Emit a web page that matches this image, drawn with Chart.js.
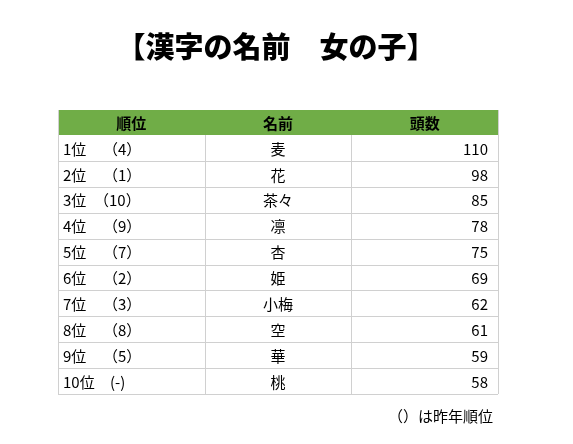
<!DOCTYPE html><html><head><meta charset="utf-8">
<script src="https://cdn.jsdelivr.net/npm/chart.js@4/dist/chart.umd.min.js"></script>
<style>html,body{margin:0;background:#fff}#w{width:573px;height:444px}</style></head><body>
<div id="w"><canvas id="c"></canvas></div>
<script>
const headers = ['順位','名前','頭数'];
const ranks = ['1位','2位','3位','4位','5位','6位','7位','8位','9位','10位'];
const prevRanks = ['（4）','（1）','（10）','（9）','（7）','（2）','（3）','（8）','（5）','(-)'];
const names = ['麦','花','茶々','凛','杏','姫','小梅','空','華','桃'];
const counts = [110,98,85,78,75,69,62,61,59,58];
const F = '"Noto Sans CJK JP", sans-serif';
const tablePlugin = {
  id:'table',
  afterDraw(chart){
    const ctx=chart.ctx, a=chart.chartArea, ys=chart.scales.y;
    const L=a.left,R=a.right,W=(R-L)/3;
    const rowH=(a.bottom-a.top)/ranks.length;
    ctx.save();
    ctx.fillStyle='#000';ctx.font='900 29px '+F;ctx.textAlign='center';ctx.textBaseline='middle';
    ctx.fillText('【漢字の名前　女の子】',276,47);
    const hTop=a.top-25;
    ctx.fillStyle='#70ad47';ctx.fillRect(L,hTop,R-L,25);
    ctx.fillStyle='#000';ctx.font='bold 15px '+F;
    headers.forEach((h,i)=>ctx.fillText(h,L+W*i+W/2,hTop+13));
    ctx.strokeStyle='#d0d0d0';ctx.lineWidth=1;
    ranks.forEach((r,i)=>{
      const y=ys.getPixelForValue(i)+rowH/2;
      ctx.beginPath();ctx.moveTo(L,Math.round(y)+0.5);ctx.lineTo(R,Math.round(y)+0.5);ctx.stroke();
    });
    [L,L+W,L+2*W,R].forEach(x=>{ctx.beginPath();ctx.moveTo(Math.round(x)+0.5,a.top);ctx.lineTo(Math.round(x)+0.5,a.bottom);ctx.stroke();});
    ctx.beginPath();ctx.moveTo(L+0.5,hTop);ctx.lineTo(L+0.5,a.top);ctx.moveTo(R+0.5,hTop);ctx.lineTo(R+0.5,a.top);ctx.stroke();
    ctx.font='15px '+F;ctx.fillStyle='#000';
    ranks.forEach((r,i)=>{
      const y=ys.getPixelForValue(i)+1;
      ctx.textAlign='left';ctx.fillText(r,L+5,y);
      ctx.fillText(prevRanks[i],L+(i===2?36:(i===9?52:45)),y);
      ctx.textAlign='center';ctx.fillText(names[i],L+W*1.5,y);
      ctx.textAlign='right';ctx.fillText(String(counts[i]),R-10,y);
    });
    ctx.textAlign='right';ctx.fillText('（）は昨年順位',493,416);
    ctx.restore();
  }
};
new Chart(document.getElementById('c'),{
  type:'bar',
  data:{labels:ranks,datasets:[{data:counts.map(()=>0),backgroundColor:'rgba(0,0,0,0)'}]},
  options:{responsive:true,maintainAspectRatio:false,animation:false,indexAxis:'y',
    layout:{padding:{left:58,right:75,top:135,bottom:50}},
    plugins:{legend:{display:false},tooltip:{enabled:false}},
    scales:{x:{display:false,min:0,max:1},y:{display:false}}},
  plugins:[tablePlugin]
});
</script></body></html>
